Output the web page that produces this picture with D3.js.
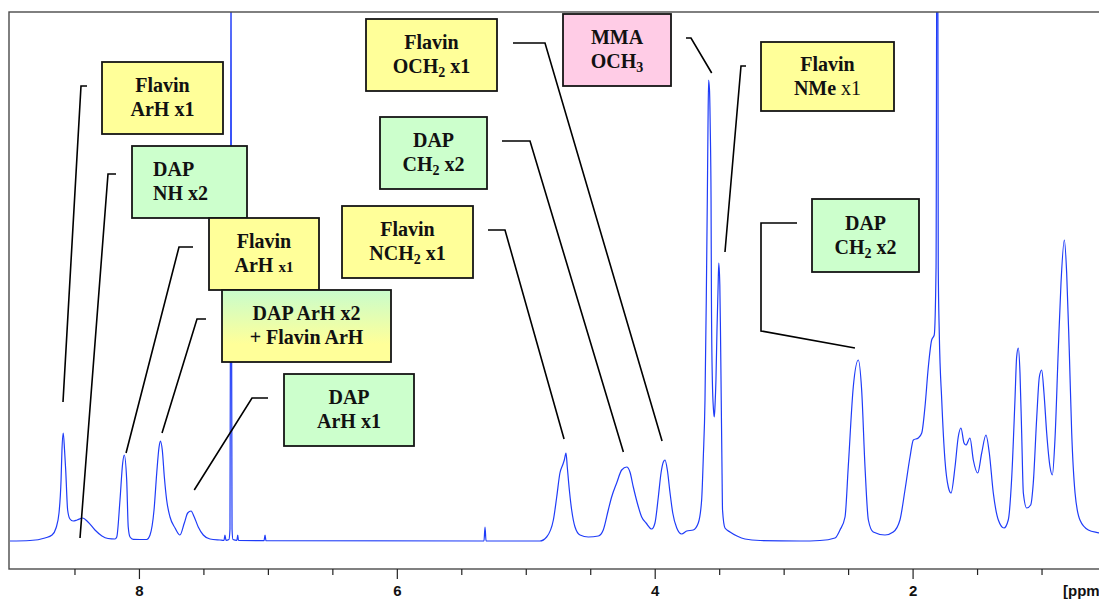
<!DOCTYPE html>
<html>
<head>
<meta charset="utf-8">
<script src="https://cdn.jsdelivr.net/npm/d3@7"></script>
<style>
  body { margin: 0; background: #fff; overflow: hidden; }
  #wrapper svg { display: block; }
</style>
</head>
<body>
<div id="wrapper"></div>
<script>
// 1H NMR trace: chemical shift (ppm) and intensity (a.u.)
const shifts = [
  9.000, 8.845, 8.729, 8.674, 8.643, 8.620, 8.604, 8.597, 8.587, 8.577, 8.568, 8.553, 8.535, 8.511,
  8.480, 8.436, 8.395, 8.341, 8.287, 8.240, 8.186, 8.172, 8.147, 8.126, 8.114, 8.095, 8.083, 8.069,
  8.044, 7.940, 7.914, 7.883, 7.862, 7.844, 7.834, 7.819, 7.803, 7.785, 7.759, 7.720, 7.682, 7.648,
  7.622, 7.596, 7.571, 7.540, 7.501, 7.449, 7.371, 7.340, 7.333, 7.325, 7.302, 7.294, 7.289, 7.286,
  7.283, 7.278, 7.271, 7.240, 7.234, 7.228, 7.030, 7.022, 7.015, 5.324, 5.316, 5.308, 4.890, 4.838,
  4.786, 4.760, 4.735, 4.714, 4.701, 4.688, 4.678, 4.662, 4.644, 4.618, 4.579, 4.515, 4.437, 4.399,
  4.360, 4.334, 4.295, 4.256, 4.217, 4.192, 4.166, 4.135, 4.101, 4.067, 4.023, 3.998, 3.972, 3.951,
  3.933, 3.920, 3.902, 3.881, 3.860, 3.829, 3.791, 3.752, 3.701, 3.662, 3.636, 3.623, 3.610, 3.600,
  3.592, 3.587, 3.582, 3.575, 3.569, 3.563, 3.560, 3.553, 3.544, 3.538, 3.532, 3.525, 3.517, 3.509,
  3.503, 3.495, 3.490, 3.484, 3.478, 3.474, 3.455, 3.416, 3.362, 3.300, 3.183, 2.873, 2.718, 2.602,
  2.563, 2.524, 2.499, 2.460, 2.421, 2.395, 2.369, 2.343, 2.305, 2.214, 2.150, 2.098, 2.059, 2.020,
  1.994, 1.956, 1.929, 1.904, 1.878, 1.852, 1.832, 1.818, 1.811, 1.805, 1.801, 1.793, 1.774, 1.749,
  1.723, 1.702, 1.671, 1.646, 1.625, 1.601, 1.586, 1.555, 1.529, 1.495, 1.464, 1.431, 1.405, 1.374,
  1.335, 1.291, 1.258, 1.231, 1.206, 1.193, 1.180, 1.167, 1.154, 1.141, 1.115, 1.084, 1.064, 1.037,
  1.017, 0.999, 0.981, 0.960, 0.934, 0.916, 0.896, 0.870, 0.849, 0.823, 0.805, 0.785, 0.766, 0.740,
  0.702, 0.637, 0.554, 0.500
]
const intensities = [
  0, 0.5, 3, 6, 13, 28, 61, 91, 108, 91, 71, 31, 22, 20,
  21, 23, 19, 11, 5, 2.5, 2, 4, 41, 78, 86, 61, 14, 4,
  1.7, 1.5, 6, 31, 68, 94, 100, 91, 64, 41, 24, 13, 6, 18,
  28, 30, 24, 14, 6, 2, 1, 0.7, 6, 0.7, 1.5, 12, 300, 620,
  300, 12, 1.5, 0.7, 6, 0.5, 0.3, 6, 0.3, 0, 14, 0, 0, 4,
  21, 44, 68, 76, 81, 88, 74, 51, 31, 14, 6, 4, 5, 11,
  31, 44, 58, 71, 74, 69, 54, 38, 24, 18, 12, 18, 44, 68,
  79, 81, 71, 48, 28, 13, 7, 10, 11, 18, 41, 84, 141, 241,
  341, 411, 461, 451, 411, 341, 241, 161, 131, 124, 136, 161, 211, 251,
  278, 256, 211, 141, 71, 31, 13, 9, 5, 2, 0.5, 0, 0.5, 3,
  11, 24, 74, 154, 181, 151, 74, 21, 9, 6, 9, 21, 51, 84,
  101, 103, 108, 134, 174, 201, 206, 274, 650, 650, 274, 208, 141, 81,
  54, 48, 74, 104, 113, 98, 96, 103, 81, 68, 88, 106, 88, 48,
  21, 13, 21, 64, 141, 184, 193, 168, 108, 48, 33, 36, 58, 124,
  164, 171, 148, 108, 74, 66, 101, 191, 258, 301, 268, 191, 108, 48,
  21, 11, 8, 6
]

// assignments: text lines, compound group, and the peak each one points at
const labelLines = [
  ["Flavin", "ArH x1"],
  ["DAP", "NH x2"],
  ["Flavin", "ArH <small>x1</small>"],
  ["DAP ArH x2", "+ Flavin ArH"],
  ["DAP", "ArH x1"],
  ["Flavin", "OCH<sub>2</sub> x1"],
  ["DAP", "CH<sub>2</sub> x2"],
  ["Flavin", "NCH<sub>2</sub> x1"],
  ["MMA", "OCH<sub>3</sub>"],
  ["Flavin", "NMe <norm>x1</norm>"],
  ["DAP", "CH<sub>2</sub> x2"],
]
const labelGroups = ["Flavin", "DAP", "Flavin", "Mixed", "DAP", "Flavin", "DAP", "Flavin", "MMA", "Flavin", "DAP"]
const labelPeakPpm = [8.589, 8.457, 8.100, 7.821, 7.571, 3.943, 4.243, 4.703, 3.558, 3.455, 2.447]
const labelPeakIntensity = [139, 3, 88, 108, 51, 100, 89, 102, 468, 289, 193]

const majorTicks = [8, 6, 4, 2]
const minorTicks = [8.5, 7.5, 7, 6.5, 5.5, 5, 4.5, 3.5, 3, 2.5, 1.5, 1, 0.5]
const axisUnit = "[ppm]"

// layout of the annotation boxes (pixels): [x, y, w, h] and the leader elbows
const boxLayout = [
  [102, 62, 121, 72], [132, 146, 115, 72], [209, 218, 110, 72], [222, 290, 169, 72],
  [284, 374, 130, 72], [366, 19, 131, 72], [380, 117, 107, 72], [342, 206, 131, 72],
  [563, 14, 108, 72], [761, 42, 133, 69], [812, 199, 107, 73],
]
const leaderElbows = [
  [[87, 86], [81, 86]], [[116, 174], [108, 174]], [[193, 247], [179, 247]], [[206, 319], [197, 319]],
  [[268, 398], [252, 398]], [[513, 43], [545, 43]], [[502, 141], [530, 141]], [[488, 230], [505, 230]],
  [[686, 38], [691, 38]], [[746, 66], [741, 66]], [[797, 223], [761, 223], [761, 331]],
]

function drawSpectrum() {

  // 1. Dimensions
  const dimensions = {
    width: 1099,
    height: 599,
    left: 9,
    top: 12,
    right: 1106,
    bottom: 569,
  }

  // 2. Canvas
  const wrapper = d3.select("#wrapper")
    .append("svg")
      .attr("width", dimensions.width)
      .attr("height", dimensions.height)

  const defs = wrapper.append("defs")
  defs.append("clipPath")
      .attr("id", "plot-clip")
    .append("rect")
      .attr("x", dimensions.left)
      .attr("y", dimensions.top)
      .attr("width", dimensions.right - dimensions.left)
      .attr("height", dimensions.bottom - dimensions.top)

  const grad = defs.append("linearGradient")
      .attr("id", "mixed-fill")
      .attr("x1", 0).attr("y1", 0).attr("x2", 0).attr("y2", 1)
  grad.append("stop").attr("offset", "0%").attr("stop-color", "#c8fccc")
  grad.append("stop").attr("offset", "75%").attr("stop-color", "#ffff99")

  // 3. Scales
  const xScale = d3.scaleLinear()
    .domain([9.0, 0.5])
    .range([10, 1106])

  const yScale = d3.scaleLinear()
    .domain([-28, 529])
    .range([dimensions.bottom, dimensions.top])

  const colorScale = d3.scaleOrdinal()
    .domain(["Flavin", "DAP", "MMA", "Mixed"])
    .range(["#ffff99", "#ccffcc", "#ffcce6", "url(#mixed-fill)"])

  // 4. Spectrum
  const points = shifts.map((s, i) => [s, intensities[i]])
  const lineGenerator = d3.line()
    .x(d => xScale(d[0]))
    .y(d => yScale(d[1]))
    .curve(d3.curveMonotoneX)

  wrapper.append("path")
      .datum(points)
      .attr("clip-path", "url(#plot-clip)")
      .attr("d", lineGenerator)
      .attr("fill", "none")
      .attr("stroke", "#1f3cf8")
      .attr("stroke-width", 1.2)
      .attr("stroke-linejoin", "round")

  // frame
  wrapper.append("rect")
      .attr("x", dimensions.left)
      .attr("y", dimensions.top)
      .attr("width", dimensions.right - dimensions.left)
      .attr("height", dimensions.bottom - dimensions.top)
      .attr("fill", "none")
      .attr("stroke", "#4a4a4a")
      .attr("stroke-width", 1.4)

  // 5. Axis
  const minorAxis = d3.axisBottom(xScale)
    .tickValues(minorTicks)
    .tickSize(6)
    .tickFormat("")
  const majorAxis = d3.axisBottom(xScale)
    .tickValues(majorTicks)
    .tickSize(10)
    .tickPadding(6)
    .tickFormat(d3.format("d"))

  const axisGroup = wrapper.append("g")
      .attr("transform", `translate(0, ${dimensions.bottom})`)
  axisGroup.append("g").call(minorAxis)
  axisGroup.append("g").call(majorAxis)
  axisGroup.selectAll(".domain").remove()
  axisGroup.selectAll(".tick line")
      .attr("stroke", "#222")
      .attr("stroke-width", 1.2)
  axisGroup.selectAll(".tick text")
      .attr("fill", "#111")
      .style("font-family", "'Liberation Sans', Arial, sans-serif")
      .style("font-weight", "bold")
      .style("font-size", "15px")

  wrapper.append("text")
      .attr("x", 1063)
      .attr("y", 596)
      .attr("fill", "#111")
      .style("font-family", "'Liberation Sans', Arial, sans-serif")
      .style("font-weight", "bold")
      .style("font-size", "15px")
      .text(axisUnit)

  // 6. Annotations
  const leaders = wrapper.append("g")
  labelLines.forEach((lines, i) => {
    const pts = leaderElbows[i].concat([[xScale(labelPeakPpm[i]), yScale(labelPeakIntensity[i])]])
    leaders.append("path")
        .attr("d", d3.line()(pts))
        .attr("fill", "none")
        .attr("stroke", "#000")
        .attr("stroke-width", 1.6)
  })

  const boxes = wrapper.append("g")
  labelLines.forEach((lines, i) => {
    const [bx, by, bw, bh] = boxLayout[i]
    const g = boxes.append("g")
    g.append("rect")
        .attr("x", bx)
        .attr("y", by)
        .attr("width", bw)
        .attr("height", bh)
        .attr("fill", colorScale(labelGroups[i]))
        .attr("stroke", "#151515")
        .attr("stroke-width", 1.8)

    const leftAligned = i === 1
    const cy = by + bh / 2
    lines.forEach((line, j) => {
      const text = g.append("text")
          .attr("x", leftAligned ? bx + 21 : bx + bw / 2)
          .attr("y", cy - 6 + j * 24)
          .attr("text-anchor", leftAligned ? "start" : "middle")
          .attr("fill", "#111")
          .style("font-family", "'Liberation Serif', 'Times New Roman', serif")
          .style("font-weight", "bold")
          .style("font-size", "20px")
      addRichText(text, line)
    })
  })

  function addRichText(textSel, str) {
    const re = /<(sub|small|norm)>(.*?)<\/\1>/g
    let last = 0
    let shift = 0
    let m
    const plain = s => {
      const t = textSel.append("tspan").text(s)
      if (shift) { t.attr("dy", -shift); shift = 0 }
    }
    while ((m = re.exec(str))) {
      if (m.index > last) plain(str.slice(last, m.index))
      const t = textSel.append("tspan").text(m[2])
      if (m[1] === "sub") {
        t.attr("dy", 4).style("font-size", "14px")
        shift = 4
      } else if (m[1] === "small") {
        t.style("font-size", "15px")
      } else {
        t.style("font-weight", "normal")
      }
      last = re.lastIndex
    }
    if (last < str.length) plain(str.slice(last))
  }
}
drawSpectrum()
</script>
</body>
</html>
